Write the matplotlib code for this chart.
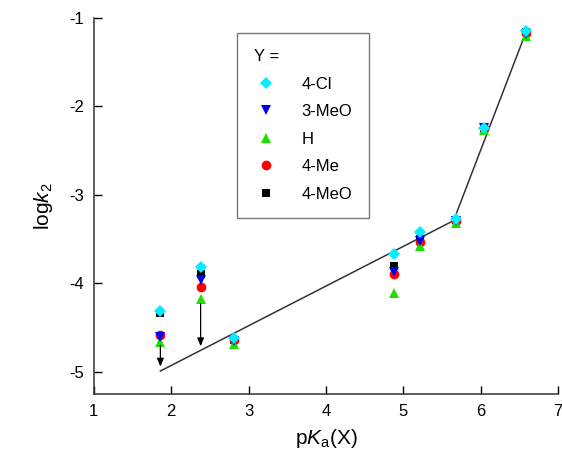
import matplotlib
matplotlib.use("Agg")
import matplotlib.pyplot as plt

plt.rcParams["font.family"] = ["Liberation Sans", "DejaVu Sans"]
plt.rcParams["mathtext.fontset"] = "custom"
plt.rcParams["mathtext.rm"] = "Liberation Sans"
plt.rcParams["mathtext.it"] = "Liberation Sans:italic"

# pKa(X) of the acids
pka = [1.86, 2.38, 2.815, 4.88, 5.22, 5.68, 6.04, 6.585]

# log k2 for each substituent Y
logk_4cl = [-4.31, -3.81, -4.62, -3.67, -3.42, -3.27, -2.24, -1.15]
logk_3meo = [-4.60, -3.96, -4.65, -3.87, -3.52, -3.29, -2.24, -1.18]
logk_h = [-4.66, -4.18, -4.68, -4.11, -3.58, -3.32, -2.27, -1.20]
logk_4me = [-4.58, -4.04, -4.64, -3.89, -3.53, -3.29, -2.24, -1.17]
logk_4meo = [-4.33, -3.89, -4.64, -3.80, -3.50, -3.28, -2.24, -1.16]

# fitted broken line
fit_x = [1.86, 5.65, 6.585]
fit_y = [-4.99, -3.29, -1.16]

# arrows (x, y_start, y_end)
arrows = [(1.86, -4.70, -4.94), (2.38, -4.23, -4.71)]

series = [
    ("4-MeO", logk_4meo, "s", "black", 6),
    ("4-Me", logk_4me, "o", "#ff0000", 7),
    ("H", logk_h, "^", "#22dd00", 7.5),
    ("3-MeO", logk_3meo, "v", "#0000ee", 7.5),
    ("4-Cl", logk_4cl, "D", "#00eeff", 6.5),
]

fig = plt.figure(figsize=(5.62, 4.61), dpi=100)
ax = fig.add_axes([0.167, 0.1453, 0.826, 0.8157])

ax.plot(fit_x, fit_y, color="#333333", lw=1.1, zorder=2)

handles = {}
for name, vals, mk, col, ms in series:
    (h,) = ax.plot(pka, vals, linestyle="none", marker=mk, color=col,
                   markersize=ms, markeredgewidth=0, zorder=3, label=name)
    handles[name] = h

for x, y0, y1 in arrows:
    ax.annotate("", xy=(x, y1), xytext=(x, y0),
                arrowprops=dict(arrowstyle="-|>,head_width=0.25,head_length=0.6",
                                color="black", lw=0.9,
                                mutation_scale=8, shrinkA=0, shrinkB=0))

order = ["4-Cl", "3-MeO", "H", "4-Me", "4-MeO"]
leg = ax.legend([handles[n] for n in order], order, title="Y =",
                loc="upper left", bbox_to_anchor=(0.3085, 0.961),
                frameon=True, fancybox=False, edgecolor="#555555",
                fontsize=12, title_fontsize=12, alignment="left",
                handletextpad=1.35, borderpad=1.0, labelspacing=0.75,
                handlelength=1.5, borderaxespad=0)
leg.get_frame().set_linewidth(1.0)

ax.set_xlim(1, 7)
ax.set_ylim(-5.25, -1)
ax.set_xticks([1, 2, 3, 4, 5, 6, 7])
ax.set_yticks([-5, -4, -3, -2, -1])
ax.set_yticklabels(["-5", "-4", "-3", "-2", "-1"])
ax.tick_params(direction="in", length=6, width=1, labelsize=12, pad=7)
for s in ["top", "right"]:
    ax.spines[s].set_visible(False)
for s in ["left", "bottom"]:
    ax.spines[s].set_linewidth(1.1)
    ax.spines[s].set_color("#333333")

ax.set_xlabel(r"p$\mathit{K}_\mathrm{a}$(X)", fontsize=15, labelpad=6)
ax.set_ylabel(r"log$\mathit{k}_\mathrm{2}$", fontsize=15, labelpad=10)

fig.savefig("out.png", dpi=100)
